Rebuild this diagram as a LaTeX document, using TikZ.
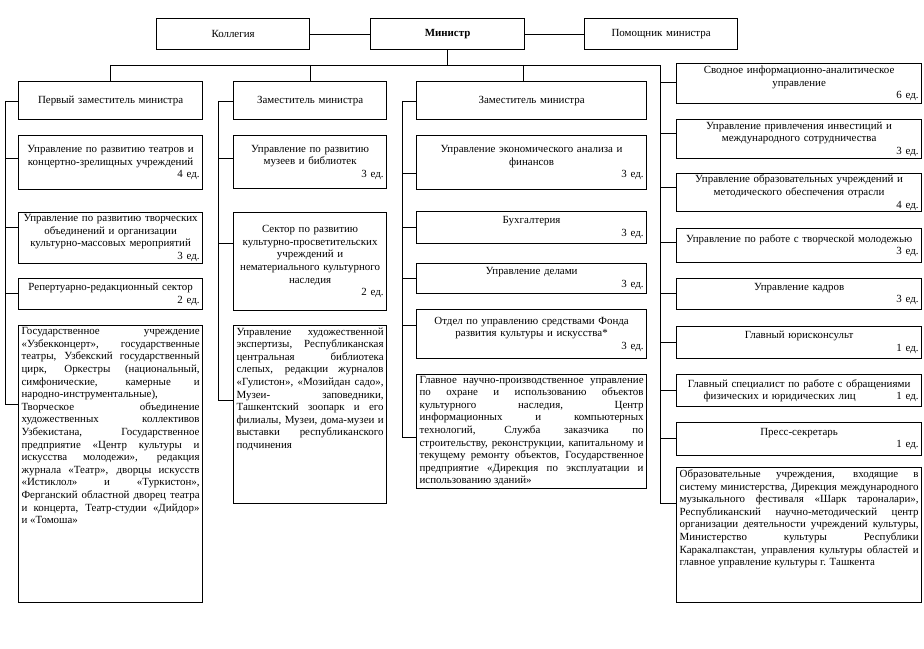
\documentclass[tikz,border=0pt]{standalone}
\usepackage{fontspec}
\setmainfont{Liberation Serif}
\usetikzlibrary{calc}
\newcommand\fsz{\fontsize{8.2}{9.45}\selectfont}
\newcommand\JLine[1]{\noindent\makebox[\hsize][s]{#1}\par}
\newcommand\JLast[1]{\noindent #1\par}
\begin{document}
\begin{tikzpicture}[x=0.75pt,y=-0.75pt,
  box/.style={draw, line width=0.9pt, anchor=north west, align=center, inner xsep=2.25pt, inner ysep=1pt, font=\fsz},
  bigbox/.style={draw, line width=0.9pt, anchor=north west, inner xsep=2.25pt, inner ysep=0pt, font=\fsz},
  conn/.style={line width=0.7pt}]
\path[fill=white] (0,0) rectangle (924,649);
\useasboundingbox (0,0) rectangle (924,649);

% top row
\node[box, minimum width=114.75pt, minimum height=23.25pt, text width=110.25pt] (kol) at (156,18) {Коллегия};
\node[box, minimum width=115.5pt, minimum height=23.25pt, text width=111pt] (min) at (370,18) {\textbf{Министр}};
\node[box, minimum width=114.75pt, minimum height=23.25pt, text width=110.25pt] (pom) at (584,18) {Помощник министра};

% deputies
\node[box, minimum width=138pt, minimum height=28.5pt, text width=133.5pt] (z1) at (18,81) {Первый заместитель министра};
\node[box, minimum width=114.75pt, minimum height=28.5pt, text width=110.25pt] (z2) at (233,81) {Заместитель министра};
\node[box, minimum width=172.5pt, minimum height=28.5pt, text width=168pt] (z3) at (416,81) {Заместитель министра};

% column 1
\node[box, minimum width=138pt, minimum height=40.5pt, text width=133.5pt] (c1a) at (18,135) {Управление по развитию театров и\\концертно-зрелищных учреждений\\\hspace*{\fill}4 ед.};
\node[box, minimum width=138pt, minimum height=38.25pt, text width=133.5pt] (c1b) at (18,212) {Управление по развитию творческих\\объединений и организации\\культурно-массовых мероприятий\\\hspace*{\fill}3 ед.};
\node[box, minimum width=138pt, minimum height=23.25pt, text width=133.5pt] (c1c) at (18,278) {Репертуарно-редакционный сектор\\\hspace*{\fill}2 ед.};
\node[bigbox] (c1d) at (18,325) {\parbox[c][207.75pt][t]{133.5pt}{\vspace*{1.5pt}%
\JLine{Государственное учреждение}
\JLine{«Узбекконцерт», государственные}
\JLine{театры, Узбекский государственный}
\JLine{цирк, Оркестры (национальный,}
\JLine{симфонические, камерные и}
\JLast{народно-инструментальные),}
\JLine{Творческое объединение}
\JLine{художественных коллективов}
\JLine{Узбекистана, Государственное}
\JLine{предприятие «Центр культуры и}
\JLine{искусства молодежи», редакция}
\JLine{журнала «Театр», дворцы искусств}
\JLine{«Истиклол» и «Туркистон»,}
\JLine{Ферганский областной дворец театра}
\JLine{и концерта, Театр-студии «Дийдор»}
\JLast{и «Томоша»}}};

% column 2
\node[box, minimum width=114.75pt, minimum height=39.75pt, text width=110.25pt] (c2a) at (233,135) {Управление по развитию\\музеев и библиотек\\\hspace*{\fill}3 ед.};
\node[box, minimum width=114.75pt, minimum height=73.5pt, text width=110.25pt] (c2b) at (233,212) {Сектор по развитию\\культурно-просветительских\\учреждений и\\нематериального культурного\\наследия\\\hspace*{\fill}2 ед.};
\node[bigbox] (c2c) at (233,325) {\parbox[c][133.5pt][t]{110.25pt}{\vspace*{1.5pt}%
\JLine{Управление художественной}
\JLine{экспертизы, Республиканская}
\JLine{центральная библиотека}
\JLine{слепых, редакции журналов}
\JLine{«Гулистон», «Мозийдан садо»,}
\JLine{Музеи- заповедники,}
\JLine{Ташкентский зоопарк и его}
\JLine{филиалы, Музеи, дома-музеи и}
\JLine{выставки республиканского}
\JLast{подчинения}}};

% column 3
\node[box, minimum width=172.5pt, minimum height=40.5pt, text width=168pt] (c3a) at (416,135) {Управление экономического анализа и\\финансов\\\hspace*{\fill}3 ед.};
\node[box, minimum width=172.5pt, minimum height=24pt, text width=168pt] (c3b) at (416,211) {Бухгалтерия\\\hspace*{\fill}3 ед.};
\node[box, minimum width=172.5pt, minimum height=22.5pt, text width=168pt] (c3c) at (416,263) {Управление делами\\\hspace*{\fill}3 ед.};
\node[box, minimum width=172.5pt, minimum height=36.75pt, text width=168pt] (c3d) at (416,309) {Отдел по управлению средствами Фонда\\развития культуры и искусства*\\\hspace*{\fill}3 ед.};
\node[bigbox] (c3e) at (416,374) {\parbox[c][85.5pt][t]{168pt}{\vspace*{1pt}%
\JLine{Главное научно-производственное управление}
\JLine{по охране и использованию объектов}
\JLine{культурного наследия, Центр}
\JLine{информационных и компьютерных}
\JLine{технологий, Служба заказчика по}
\JLine{строительству, реконструкции, капитальному и}
\JLine{текущему ремонту объектов, Государственное}
\JLine{предприятие «Дирекция по эксплуатации и}
\JLast{использованию зданий»}}};

% right column
\node[box, minimum width=183.75pt, minimum height=30pt, text width=179.25pt] (r1) at (676,63) {Сводное информационно-аналитическое\\управление\\\hspace*{\fill}6 ед.};
\node[box, minimum width=183.75pt, minimum height=29.25pt, text width=179.25pt] (r2) at (676,119) {Управление привлечения инвестиций и\\международного сотрудничества\\\hspace*{\fill}3 ед.};
\node[box, minimum width=183.75pt, minimum height=28.5pt, text width=179.25pt] (r3) at (676,173) {Управление образовательных учреждений и\\методического обеспечения отрасли\\\hspace*{\fill}4 ед.};
\node[box, minimum width=183.75pt, minimum height=25.5pt, text width=179.25pt] (r4) at (676,228) {Управление по работе с творческой молодежью\\\hspace*{\fill}3 ед.};
\node[box, minimum width=183.75pt, minimum height=23.25pt, text width=179.25pt] (r5) at (676,278) {Управление кадров\\\hspace*{\fill}3 ед.};
\node[box, minimum width=183.75pt, minimum height=24pt, text width=179.25pt] (r6) at (676,326) {Главный юрисконсульт\\\hspace*{\fill}1 ед.};
\node[box, minimum width=183.75pt, minimum height=24pt, text width=179.25pt] (r7) at (676,374) {Главный специалист по работе с обращениями\\\hspace*{18pt}физических и юридических лиц\hspace*{\fill}1 ед.};
\node[box, minimum width=183.75pt, minimum height=24.75pt, text width=179.25pt] (r8) at (676,422) {Пресс-секретарь\\\hspace*{\fill}1 ед.};
\node[bigbox] (r9) at (676,467) {\parbox[c][101.25pt][t]{179.25pt}{\vspace*{1.5pt}%
\JLine{Образовательные учреждения, входящие в}
\JLine{систему министерства, Дирекция международного}
\JLine{музыкального фестиваля «Шарк тароналари»,}
\JLine{Республиканский научно-методический центр}
\JLine{организации деятельности учреждений культуры,}
\JLine{Министерство культуры Республики}
\JLine{Каракалпакстан, управления культуры областей и}
\JLast{главное управление культуры г. Ташкента}}};

% connectors
\coordinate (bus) at (0,65);
\coordinate (hL) at (z1.north |- bus);
\coordinate (hR) at (660,65);
\coordinate (d3) at (523,65);
\coordinate (sp1) at (5,0);
\coordinate (sp2) at (218,0);
\coordinate (sp3) at (402,0);
\draw[conn] (kol) -- (min);
\draw[conn] (min) -- (pom);
\draw[conn] (min.south) -- (min.south |- bus);
\draw[conn] (hL) -- (z1.north);
\draw[conn] (z2.north |- bus) -- (z2.north);
\draw[conn] (d3) -- (d3 |- z3.north);

\foreach \n/\o in {z1/20,c1a/23,c1b/15,c1c/15,c1d/79}
  {\draw[conn] ($(\n.north west)+(0,\o)$) coordinate (at\n) -- (at\n -| sp1);}
\draw[conn] (atz1 -| sp1) -- (atc1d -| sp1);

\foreach \n/\o in {z2/20,c2a/23,c2b/31,c2c/75}
  {\draw[conn] ($(\n.north west)+(0,\o)$) coordinate (at\n) -- (at\n -| sp2);}
\draw[conn] (atz2 -| sp2) -- (atc2c -| sp2);

\foreach \n/\o in {z3/20,c3a/38,c3b/16,c3c/15,c3d/16,c3e/63}
  {\draw[conn] ($(\n.north west)+(0,\o)$) coordinate (at\n) -- (at\n -| sp3);}
\draw[conn] (atz3 -| sp3) -- (atc3e -| sp3);

\foreach \n/\o in {r1/19,r2/14,r3/14,r4/14,r5/15,r6/16,r7/16,r8/16,r9/36}
  {\draw[conn] ($(\n.north west)+(0,\o)$) coordinate (at\n) -- (at\n -| hR);}
\draw[conn] (hL) -- (hR) -- (atr9 -| hR);
\end{tikzpicture}
\end{document}
